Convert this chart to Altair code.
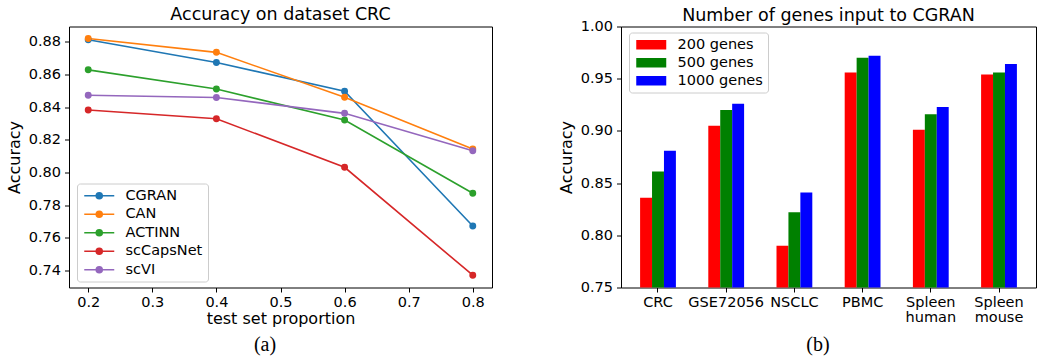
import altair as alt
import pandas as pd

# ---------------- data: panel (a) ----------------
proportions = [0.2, 0.4, 0.6, 0.8]
methods = ["CGRAN", "CAN", "ACTINN", "scCapsNet", "scVI"]
acc_cgran = [0.8812, 0.8673, 0.8497, 0.7673]
acc_can = [0.8820, 0.8735, 0.8460, 0.8144]
acc_actinn = [0.8628, 0.8511, 0.8321, 0.7873]
acc_sccapsnet = [0.8382, 0.8329, 0.8032, 0.7372]
acc_scvi = [0.8473, 0.8459, 0.8362, 0.8133]
method_colors = ["#1f77b4", "#ff7f0e", "#2ca02c", "#d62728", "#9467bd"]
x_ticks_a = [0.2, 0.3, 0.4, 0.5, 0.6, 0.7, 0.8]
y_ticks_a = [0.74, 0.76, 0.78, 0.80, 0.82, 0.84, 0.86, 0.88]

# ---------------- data: panel (b) ----------------
datasets = ["CRC", "GSE72056", "NSCLC", "PBMC", "Spleen human", "Spleen mouse"]
gene_counts = ["200 genes", "500 genes", "1000 genes"]
acc_200 = [0.836, 0.905, 0.790, 0.956, 0.901, 0.954]
acc_500 = [0.861, 0.920, 0.822, 0.970, 0.916, 0.956]
acc_1000 = [0.881, 0.926, 0.841, 0.972, 0.923, 0.964]
gene_colors = ["#ff0000", "#008000", "#0000ff"]
y_ticks_b = [0.75, 0.80, 0.85, 0.90, 0.95, 1.00]

captions = ["(a)", "(b)"]

# ---------------- tables ----------------
series_a = [acc_cgran, acc_can, acc_actinn, acc_sccapsnet, acc_scvi]
rows_a = []
for m, vals in zip(methods, series_a):
    for p, v in zip(proportions, vals):
        rows_a.append({"method": m, "proportion": p, "accuracy": v})
df_a = pd.DataFrame(rows_a)

series_b = [acc_200, acc_500, acc_1000]
rows_b = []
for g, vals in zip(gene_counts, series_b):
    for d, v in zip(datasets, vals):
        rows_b.append({"dataset": d, "genes": g, "accuracy": v})
df_b = pd.DataFrame(rows_b)

FONT = "DejaVu Sans"
TICK_FS = 14.5
TITLE_FS = 16
HEAD_FS = 17.5

PW_A, PH = 423, 261
PW_B = 415

# legend symbol paths (unit = sqrt(size)/2 px)
line_marker_path = (
    "M-1,0H5"
    "M1.4,0a0.6,0.6 0 1,0 1.2,0a0.6,0.6 0 1,0 -1.2,0"
    "M1.6,0a0.4,0.4 0 1,0 0.8,0a0.4,0.4 0 1,0 -0.8,0"
    "M1.8,0a0.2,0.2 0 1,0 0.4,0a0.2,0.2 0 1,0 -0.4,0"
)
rect_path = "M-1,-0.95H5V0.95H-1Z"

# ---------------- panel (a) ----------------
xa = alt.X(
    "proportion:Q",
    scale=alt.Scale(domain=[0.17, 0.83], nice=False, zero=False),
    axis=alt.Axis(values=x_ticks_a, format=".1f", title="test set proportion"),
)
ya = alt.Y(
    "accuracy:Q",
    scale=alt.Scale(domain=[0.7297, 0.8893], nice=False, zero=False),
    axis=alt.Axis(values=y_ticks_a, format=".2f", title="Accuracy"),
)
base_a = alt.Chart(df_a)
lines_a = base_a.mark_line(strokeWidth=1.6).encode(
    x=xa,
    y=ya,
    color=alt.Color(
        "method:N",
        sort=methods,
        scale=alt.Scale(domain=methods, range=method_colors),
        legend=alt.Legend(
            title=None,
            orient="none",
            legendX=8,
            legendY=157,
            symbolType=line_marker_path,
            symbolSize=100,
            symbolStrokeWidth=1.6,
            labelFontSize=TICK_FS,
            labelFont=FONT,
            labelColor="black",
            labelOffset=29,
            rowPadding=3.5,
            padding=5,
            strokeColor="#cccccc",
            fillColor="white",
            cornerRadius=3,
        ),
    ),
    order=alt.Order("proportion:Q"),
)
points_a = base_a.mark_circle(size=48, opacity=1).encode(
    x=xa,
    y=ya,
    color=alt.Color("method:N", scale=alt.Scale(domain=methods, range=method_colors), legend=None),
)
cap_a = alt.Chart(pd.DataFrame({"t": [captions[0]]})).mark_text(
    font="Liberation Serif", fontSize=20, color="black"
).encode(text="t:N", x=alt.value(196), y=alt.value(318))

panel_a = alt.layer(lines_a, points_a, cap_a).properties(
    width=PW_A,
    height=PH,
    title=alt.TitleParams("Accuracy on dataset CRC", frame="group", offset=3),
)

# ---------------- panel (b) ----------------
bars_b = alt.Chart(df_b).mark_bar().encode(
    x=alt.X(
        "dataset:N",
        sort=datasets,
        scale=alt.Scale(paddingInner=0.475, paddingOuter=0.28),
        axis=alt.Axis(labelAngle=0, labelExpr="split(datum.label, ' ')", title=None, labelLineHeight=15),
    ),
    xOffset=alt.XOffset("genes:N", sort=gene_counts, scale=alt.Scale(paddingInner=0, paddingOuter=0)),
    y=alt.Y(
        "accuracy:Q",
        scale=alt.Scale(domain=[0.75, 1.0], nice=False, zero=False),
        axis=alt.Axis(values=y_ticks_b, format=".2f", title="Accuracy"),
    ),
    y2=alt.datum(0.75),
    color=alt.Color(
        "genes:N",
        sort=gene_counts,
        scale=alt.Scale(domain=gene_counts, range=gene_colors),
        legend=alt.Legend(
            title=None,
            orient="none",
            legendX=8,
            legendY=6,
            symbolType=rect_path,
            symbolSize=100,
            symbolStrokeWidth=0,
            labelFontSize=TICK_FS,
            labelFont=FONT,
            labelColor="black",
            labelOffset=29,
            rowPadding=3,
            padding=5,
            strokeColor="#cccccc",
            fillColor="white",
            cornerRadius=3,
        ),
    ),
)
cap_b = alt.Chart(pd.DataFrame({"t": [captions[1]]})).mark_text(
    font="Liberation Serif", fontSize=20, color="black"
).encode(text="t:N", x=alt.value(197), y=alt.value(318))

panel_b = alt.layer(bars_b, cap_b).properties(
    width=PW_B,
    height=PH,
    title=alt.TitleParams("Number of genes input to CGRAN", frame="group", offset=-5.5),
)

chart = (
    alt.hconcat(panel_a, panel_b, spacing=64)
    .resolve_scale(color="independent", x="independent", y="independent")
    .properties(padding={"left": 5, "top": 5.5, "right": 0, "bottom": 0})
    .configure(font=FONT)
    .configure_view(stroke="black", strokeWidth=1)
    .configure_axis(
        domain=False,
        grid=False,
        ticks=True,
        tickColor="black",
        tickSize=4.5,
        tickWidth=1,
        labelFont=FONT,
        labelFontSize=TICK_FS,
        labelColor="black",
        labelPadding=3,
        titleFont=FONT,
        titleFontSize=TITLE_FS,
        titleFontWeight="normal",
        titleColor="black",
    )
    .configure_axisY(labelPadding=4, titlePadding=6)
    .configure_axisX(titlePadding=2)
    .configure_title(
        font=FONT, fontSize=HEAD_FS, fontWeight="normal", color="black", anchor="middle"
    )
)

chart.save("out.html", embed_options={"renderer": "svg", "actions": False})
